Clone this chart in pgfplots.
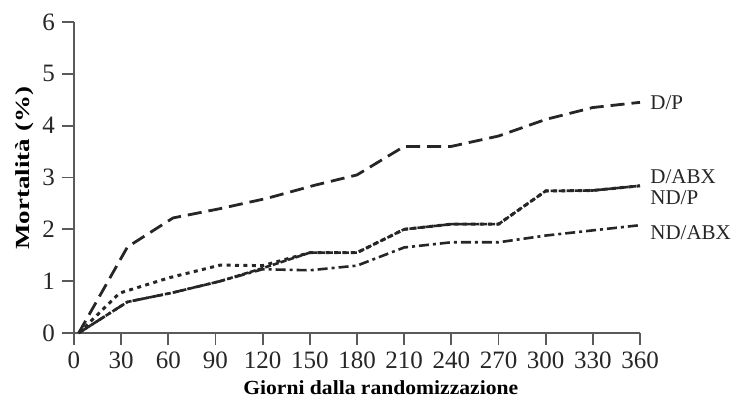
\documentclass[border=0pt]{standalone}
\usepackage{fontspec}
\setmainfont{Liberation Serif}
\usepackage{pgfplots}
\pgfplotsset{compat=1.18}

\definecolor{ink}{HTML}{262626}
\definecolor{axisgray}{HTML}{5A5A5A}

\begin{document}
\begin{tikzpicture}
\begin{axis}[
  scale only axis,
  width=283pt,
  height=155.5pt,
  xmin=0, xmax=360,
  ymin=0, ymax=6,
  axis lines*=left,
  axis line style={axisgray, line width=1pt},
  xtick={0,30,...,360},
  ytick={0,1,...,6},
  tick align=outside,
  major tick length=6pt,
  tick style={axisgray, line width=0.9pt},
  tick label style={font=\fontsize{12.5}{14}\selectfont, text=ink},
  /pgf/number format/assume math mode=true,
  xlabel={\scalebox{1.08}[1]{\textbf{Giorni dalla randomizzazione}}},
  ylabel={\scalebox{1.35}[1]{\textbf{Mortalità (\%)}}},
  label style={font=\fontsize{12.5}{14}\selectfont, text=ink},
  every axis x label/.style={at={(axis description cs:0.542,-0.177)}, anchor=center},
  every axis y label/.style={at={(axis description cs:-0.088,0.53)}, rotate=90, anchor=center},
  clip=false,
]
% D/P
\addplot[ink, line width=1.4pt, dash pattern=on 7pt off 3.5pt] coordinates {
  (3,0) (34,1.66) (63,2.22) (93,2.4) (123,2.6) (153,2.85) (180,3.05)
  (210,3.6) (240,3.6) (270,3.8) (300,4.12) (330,4.35) (360,4.45)
};
% D/ABX
\addplot[ink, line width=1.3pt, dash pattern=on 3pt off 1pt] coordinates {
  (3,0) (34,0.6) (63,0.78) (93,1.0) (120,1.25) (150,1.55) (180,1.55)
  (210,2.0) (240,2.1) (270,2.1) (300,2.74) (330,2.75) (360,2.84)
};
% ND/P
\addplot[ink, line width=1.5pt, dash pattern=on 2pt off 2.2pt] coordinates {
  (3,0) (29,0.77) (61,1.07) (93,1.31) (120,1.3) (150,1.55) (180,1.55)
  (210,2.0) (240,2.1) (270,2.1) (300,2.74) (330,2.75) (360,2.84)
};
% ND/ABX
\addplot[ink, line width=1.3pt, dash pattern=on 5pt off 2pt on 1.5pt off 2pt] coordinates {
  (3,0) (34,0.6) (63,0.78) (93,1.0) (120,1.23) (150,1.21) (180,1.3)
  (210,1.65) (240,1.75) (270,1.75) (300,1.88) (330,1.98) (360,2.08)
};
\node[anchor=west, inner sep=0pt, xshift=5pt, text=ink, font=\fontsize{10.5}{12}\selectfont] at (axis cs:360,4.44) {D/P};
\node[anchor=west, inner sep=0pt, xshift=5pt, text=ink, font=\fontsize{10.5}{12}\selectfont] at (axis cs:360,3.01) {D/ABX};
\node[anchor=west, inner sep=0pt, xshift=5pt, text=ink, font=\fontsize{10.5}{12}\selectfont] at (axis cs:360,2.61) {ND/P};
\node[anchor=west, inner sep=0pt, xshift=5pt, text=ink, font=\fontsize{10.5}{12}\selectfont] at (axis cs:360,1.93) {ND/ABX};
\end{axis}
\pgfresetboundingbox
\path (-37pt,-36.5pt) rectangle (329pt,166.5pt);
\end{tikzpicture}
\end{document}
